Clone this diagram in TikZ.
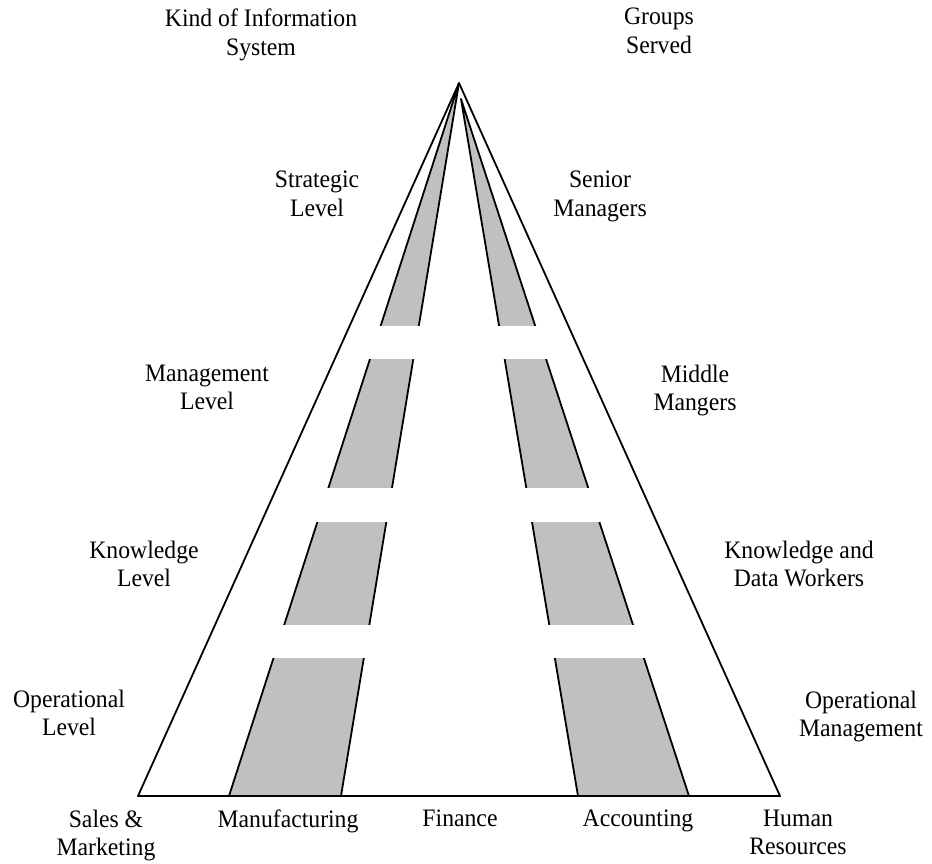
\documentclass[tikz,border=0pt]{standalone}
\usepackage{graphicx}
\usepackage{fontspec}
\setmainfont{Liberation Serif}
\definecolor{bandgray}{RGB}{192,192,192}
\newcommand{\tline}[1]{\scalebox{1}[1.06]{#1}}
\tikzset{
  lbl/.style={align=center, anchor=north, font=\fontsize{23.7}{28.5}\selectfont, inner sep=0pt},
  edge/.style={line width=1.8pt, line join=round},
}
\begin{document}
\begin{tikzpicture}[x=1pt,y=-1pt]
\useasboundingbox (0,0) rectangle (932,863);
% key points
\coordinate (A) at (459,83);
\coordinate (A2) at (461,99);
\coordinate (BL) at (138,796);
\coordinate (B1) at (229,796);
\coordinate (B2) at (341,796);
\coordinate (B3) at (578,796);
\coordinate (B4) at (689,796);
\coordinate (BR) at (780,796);
% gray bands
\fill[bandgray] (B1) -- (A) -- (B2) -- cycle;
\draw[edge] (B1) -- (A) -- (B2);
\fill[bandgray] (B3) -- (A2) -- (B4) -- cycle;
\draw[edge] (B3) -- (A2) -- (B4);
% white gaps
\begin{scope}
  \clip (BL) -- (A) -- (BR) -- cycle;
  \fill[white] (150,326) rectangle (780,359);
  \fill[white] (150,488) rectangle (780,522);
  \fill[white] (150,625) rectangle (780,658);
\end{scope}
% outer triangle
\draw[edge] (BL) -- (A) -- (BR) -- cycle;
% labels
\node[lbl] (kis) at (261,8.8) {\tline{Kind of Information}\\\tline{System}};
\node[lbl] (gs) at (659,8) {\tline{Groups}\\\tline{Served}};
\node[lbl] (sl) at (317,170.8) {\tline{Strategic}\\\tline{Level}};
\node[lbl] (sm) at (600,170.8) {\tline{Senior}\\\tline{Managers}};
\node[lbl] (ml) at (207,364.8) {\tline{Management}\\\tline{Level}};
\node[lbl] (mm) at (695,364.8) {\tline{Middle}\\\tline{Mangers}};
\node[lbl] (kl) at (144,540.8) {\tline{Knowledge}\\\tline{Level}};
\node[lbl] (kd) at (799,540.8) {\tline{Knowledge and}\\\tline{Data Workers}};
\node[lbl] (ol) at (69,689.8) {\tline{Operational}\\\tline{Level}};
\node[lbl] (om) at (861,690.5) {\tline{Operational}\\\tline{Management}};
\node[lbl] (smk) at (106,809.8) {\tline{Sales \&}\\\tline{Marketing}};
\node[lbl] (mf) at (288,809.8) {\tline{Manufacturing}};
\node[lbl] (fin) at (460,809.8) {\tline{Finance}};
\node[lbl] (acc) at (638,809.8) {\tline{Accounting}};
\node[lbl] (hr) at (798,809.8) {\tline{Human}\\\tline{Resources}};
\end{tikzpicture}
\end{document}
